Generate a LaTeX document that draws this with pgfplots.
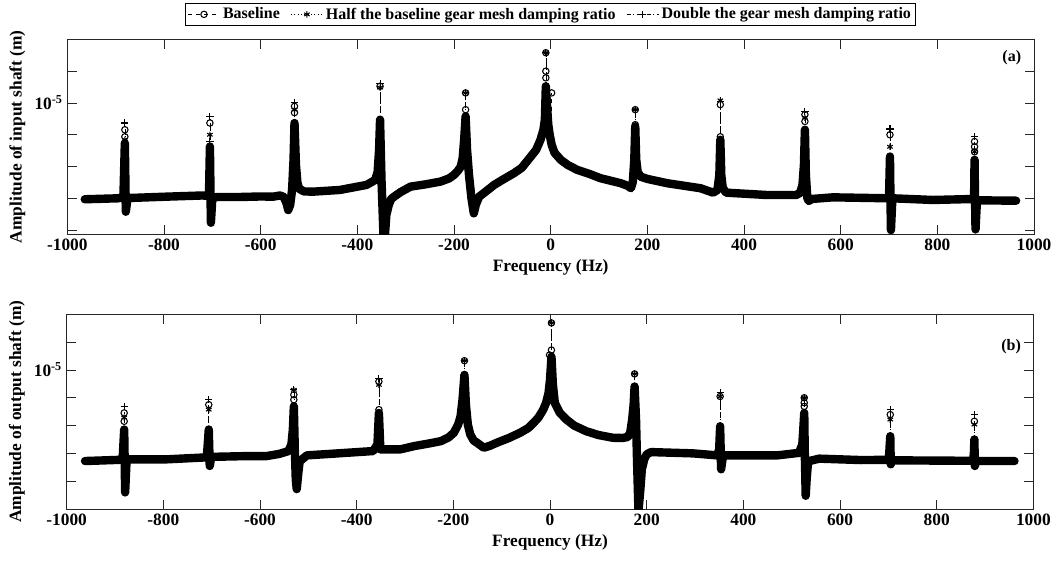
\documentclass[border=0pt]{standalone}
\usepackage{fontspec}
\setmainfont{Liberation Serif}
\usepackage{pgfplots}
\pgfplotsset{compat=1.18}
\definecolor{axgray}{gray}{0.15}
\pgfplotsset{
  mypanel/.style={
    width=725pt, height=146pt, scale only axis,
    xmin=-1000, xmax=1000,
    xtick={-1000,-800,-600,-400,-200,0,200,400,600,800,1000},
    xticklabels={-1000,-800,-600,-400,-200,0,200,400,600,800,1000},
    ytick={1.585e-6,2.512e-6,3.981e-6,6.310e-6,1e-5,1.585e-5},
    yticklabels={,,,,10\textsuperscript{-5},},
    minor ytick={},
    tick align=inside, major tick length=7pt,
    axis line style={line width=0.6pt, color=axgray},
    every tick/.style={axgray, line width=0.6pt},
    ticklabel style={font=\fontsize{13}{15}\selectfont\bfseries, text=black},
    label style={font=\fontsize{13}{15}\selectfont\bfseries},
    xlabel={Frequency (Hz)},
    unbounded coords=jump,
    clip=true,
  },
  myband/.style={black, line width=6.3pt, line join=round, line cap=round, forget plot},
  sbase/.style={black, line width=0.5pt, dashed, mark=o, mark size=2.4pt, mark options={solid, line width=0.8pt}},
  shalf/.style={black, line width=0.5pt, dotted, mark=asterisk, mark size=2.4pt, mark options={solid, line width=0.8pt}},
  sdouble/.style={black, line width=0.5pt, dash dot, mark=+, mark size=2.7pt, mark options={solid, line width=0.8pt}},
}
\begin{document}
\begin{tikzpicture}
\path[use as bounding box] (-50pt,-40.5pt) rectangle (742.75pt,381.75pt);

% ---------------- panel (a) ----------------
\begin{axis}[ymode=log, mypanel, at={(0.5pt,206.25pt)}, anchor=south west,
  ymin=1.5e-6, ymax=2.51e-5,
  ylabel={Amplitude of input shaft (m)},
  legend style={at={(0.5,1.0)}, anchor=south, yshift=10pt, legend columns=3,
    font=\fontsize{12}{14}\selectfont\bfseries, draw=black, line width=0.5pt,
    inner sep=1.5pt, /tikz/every even column/.append style={column sep=6pt}},
  legend image code/.code={\draw[mark repeat=2,mark phase=2,#1] plot coordinates {(0pt,0pt) (12pt,0pt) (24pt,0pt)};},
  legend cell align=left]
\addplot[myband] coordinates {
(-964,2.48e-6) (-895,2.515e-6) (-884,2.563e-6) (-881,5.59e-6) (-879,2.07e-6) (-876,2.455e-6)
(-870,2.527e-6) (-795,2.575e-6) (-720,2.62e-6) (-707,2.60e-6) (-705,5.32e-6) (-703,1.765e-6)
(-700,2.527e-6) (-690,2.563e-6) (-643,2.563e-6) (-600,2.582e-6) (-574,2.575e-6) (-560,2.62e-6)
(-552,2.563e-6) (-546,2.316e-6) (-543,2.122e-6) (-539,2.283e-6) (-535,2.838e-6) (-532,4.387e-6)
(-530,7.478e-6) (-527,4.081e-6) (-524,3.142e-6) (-520,2.88e-6) (-510,2.777e-6) (-491,2.769e-6)
(-436,2.838e-6) (-381,3.052e-6) (-370,3.188e-6) (-363,3.281e-6) (-358,3.686e-6) (-355,5.075e-6)
(-353,7.846e-6) (-350,3.281e-6) (-346,1.497e-6) (-343,1.455e-6) (-340,1.974e-6) (-335,2.283e-6)
(-330,2.49e-6) (-324,2.575e-6) (-310,2.757e-6) (-290,2.977e-6) (-260,3.074e-6) (-228,3.202e-6)
(-210,3.355e-6) (-200,3.528e-6) (-192,3.741e-6) (-186,3.981e-6) (-182,4.517e-6) (-179,5.868e-6)
(-176,8.23e-6) (-173,5.075e-6) (-169,3.528e-6) (-164,2.527e-6) (-159,2.023e-6) (-155,2.283e-6)
(-148,2.575e-6) (-130,2.838e-6) (-117,3.052e-6) (-100,3.281e-6) (-76,3.617e-6) (-60,3.907e-6)
(-41,4.604e-6) (-30,5.075e-6) (-21,5.868e-6) (-15,6.783e-6) (-12,7.846e-6) (-10,12.73e-6)
(-7,9.07e-6) (-5,7.297e-6) (-2,6.31e-6) (2,5.457e-6) (8,4.859e-6) (21,4.387e-6)
(35,4.081e-6) (55,3.795e-6) (80,3.581e-6) (103,3.364e-6) (145,3.129e-6) (160,3.007e-6)
(166,2.909e-6) (170,3.188e-6) (173,4.387e-6) (175,7.119e-6) (177,4.387e-6) (180,3.686e-6)
(186,3.443e-6) (200,3.33e-6) (241,3.129e-6) (310,2.909e-6) (336,2.729e-6) (345,2.838e-6)
(349,3.528e-6) (351,5.868e-6) (353,3.528e-6) (356,2.922e-6) (363,2.729e-6) (446,2.639e-6)
(508,2.639e-6) (516,2.717e-6) (521,3.052e-6) (524,4.081e-6) (526,6.783e-6) (528,3.528e-6)
(531,2.527e-6) (534,2.418e-6) (540,2.49e-6) (584,2.55e-6) (700,2.515e-6) (702,4.604e-6)
(703,2.527e-6) (704,1.587e-6) (707,2.515e-6) (791,2.455e-6) (876,2.49e-6) (877,4.387e-6)
(878,2.455e-6) (879,1.603e-6) (882,2.443e-6) (963,2.429e-6)
};
\addplot[sbase] coordinates {
(-881,5.59e-6) (-881,6.13e-6) (-881,6.78e-6) (-881,nan)
(-705,5.32e-6) (-705,7.48e-6) (-705,nan)
(-530,7.48e-6) (-530,8.69e-6) (-530,9.52e-6) (-530,nan)
(-353,7.85e-6) (-353,12.73e-6) (-353,nan)
(-176,8.23e-6) (-176,9.07e-6) (-176,11.56e-6) (-176,nan)
(-10,12.73e-6) (-10,14.38e-6) (-10,15.83e-6) (-10,20.68e-6) (-10,nan)
(2,5.59e-6) (2,11.56e-6) (2,nan)
(175,7.12e-6) (175,7.30e-6) (175,9.07e-6) (175,nan)
(351,5.87e-6) (351,6.13e-6) (351,9.757e-6) (351,nan)
(526,6.78e-6) (526,7.65e-6) (526,8.44e-6) (526,nan)
(702,4.60e-6) (702,6.31e-6) (702,nan)
(704,1.587e-6) (704,nan)
(877,4.39e-6) (877,4.93e-6) (877,5.30e-6) (877,5.72e-6)
};
\addlegendentry{Baseline}
\addplot[shalf] coordinates {
(-881,5.59e-6) (-881,5.87e-6) (-881,nan)
(-705,5.32e-6) (-705,6.31e-6) (-705,nan)
(-530,7.48e-6) (-530,9.07e-6) (-530,nan)
(-353,7.85e-6) (-353,12.49e-6) (-353,nan)
(-176,8.23e-6) (-176,11.56e-6) (-176,nan)
(-10,12.73e-6) (-10,20.68e-6) (-10,nan)
(175,7.12e-6) (175,9.07e-6) (175,nan)
(351,5.87e-6) (351,10.38e-6) (351,nan)
(526,6.78e-6) (526,8.08e-6) (526,nan)
(702,4.60e-6) (702,5.30e-6) (702,nan)
(877,4.39e-6) (877,4.93e-6)
};
\addlegendentry{Half the baseline gear mesh damping ratio}
\addplot[sdouble] coordinates {
(-881,5.59e-6) (-881,7.48e-6) (-881,nan)
(-705,5.32e-6) (-705,5.72e-6) (-705,8.23e-6) (-705,nan)
(-530,7.48e-6) (-530,10.09e-6) (-530,nan)
(-353,7.85e-6) (-353,13.24e-6) (-353,nan)
(-176,8.23e-6) (-176,11.56e-6) (-176,nan)
(-10,12.73e-6) (-10,20.68e-6) (-10,nan)
(175,7.12e-6) (175,9.07e-6) (175,nan)
(351,5.87e-6) (351,10.19e-6) (351,nan)
(526,6.78e-6) (526,8.85e-6) (526,nan)
(702,4.60e-6) (702,6.855e-6) (702,nan)
(704,1.59e-6) (704,1.68e-6) (704,nan)
(877,4.39e-6) (877,6.156e-6) (877,nan)
(879,1.60e-6) (879,1.707e-6)
};
\addlegendentry{Double the gear mesh damping ratio}
\node[font=\fontsize{12}{14}\selectfont\bfseries] at (rel axis cs:0.977,0.907) {(a)};
\end{axis}

% ---------------- panel (b) ----------------
\begin{axis}[ymode=log, mypanel, at={(0pt,0pt)}, anchor=south west,
  ymin=1e-6, ymax=2.51e-5,
  ylabel={Amplitude of output shaft (m)}]
\addplot[myband] coordinates {
(-962,2.213e-6) (-890,2.257e-6) (-884,2.352e-6) (-881,3.728e-6) (-879,1.316e-6) (-876,2.276e-6)
(-793,2.276e-6) (-710,2.352e-6) (-706,3.728e-6) (-704,2.039e-6) (-701,2.371e-6) (-623,2.403e-6)
(-586,2.403e-6) (-560,2.491e-6) (-541,2.61e-6) (-535,2.913e-6) (-532,3.728e-6) (-530,5.47e-6)
(-528,2.683e-6) (-526,1.638e-6) (-524,1.39e-6) (-521,1.778e-6) (-518,2.202e-6) (-503,2.43e-6)
(-448,2.50e-6) (-366,2.61e-6) (-357,2.913e-6) (-354,4.906e-6) (-351,2.683e-6) (-310,2.683e-6)
(-281,2.833e-6) (-250,2.961e-6) (-226,3.075e-6) (-210,3.268e-6) (-199,3.531e-6) (-190,4.047e-6)
(-185,4.638e-6) (-181,6.107e-6) (-177,9.21e-6) (-174,5.623e-6) (-170,4.047e-6) (-165,3.433e-6)
(-158,3.11e-6) (-151,2.995e-6) (-137,2.759e-6) (-125,2.842e-6) (-110,2.995e-6) (-85,3.241e-6)
(-62,3.531e-6) (-45,3.821e-6) (-34,4.163e-6) (-24,4.541e-6) (-14,5.18e-6) (-8,5.811e-6)
(-3,6.816e-6) (0,8.483e-6) (3,12.45e-6) (6,7.815e-6) (10,5.78e-6) (20,4.931e-6)
(34,4.395e-6) (50,3.981e-6) (75,3.625e-6) (100,3.405e-6) (130,3.252e-6) (150,3.241e-6)
(161,3.295e-6) (166,3.548e-6) (170,4.395e-6) (173,5.623e-6) (175,7.598e-6) (178,4.395e-6)
(180,2.276e-6) (183,0.968e-6) (187,1.39e-6) (190,1.931e-6) (195,2.276e-6) (200,2.471e-6)
(209,2.566e-6) (296,2.512e-6) (346,2.43e-6) (350,2.683e-6) (352,3.936e-6) (354,1.931e-6)
(358,2.43e-6) (470,2.43e-6) (515,2.533e-6) (522,2.913e-6) (524,3.728e-6) (526,4.906e-6)
(527,2.683e-6) (529,1.245e-6) (531,1.638e-6) (534,2.202e-6) (557,2.302e-6) (643,2.249e-6)
(701,2.257e-6) (704,3.339e-6) (705,2.097e-6) (707,2.239e-6) (875,2.221e-6) (877,2.5e-6)
(878,3.162e-6) (879,2.039e-6) (881,2.213e-6) (961,2.213e-6)
};
\addplot[sbase] coordinates {
(-881,3.73e-6) (-881,4.272e-6) (-881,4.906e-6) (-881,nan)
(-706,3.73e-6) (-706,5.623e-6) (-706,nan)
(-530,5.47e-6) (-530,6.107e-6) (-530,6.63e-6) (-530,nan)
(-354,4.906e-6) (-354,5.18e-6) (-354,8.25e-6) (-354,nan)
(-177,9.21e-6) (-177,11.65e-6) (-177,nan)
(-1,12.8e-6) (-1,nan)
(3,12.45e-6) (3,13.9e-6) (3,21.77e-6) (3,nan)
(175,7.60e-6) (175,9.363e-6) (175,nan)
(352,3.936e-6) (352,6.445e-6) (352,nan)
(526,4.906e-6) (526,5.47e-6) (526,5.81e-6) (526,6.31e-6) (526,nan)
(704,3.339e-6) (704,4.77e-6) (704,nan)
(878,3.162e-6) (878,4.272e-6)
};
\addplot[shalf] coordinates {
(-881,3.73e-6) (-881,4.54e-6) (-881,nan)
(-706,3.73e-6) (-706,5.18e-6) (-706,nan)
(-530,5.47e-6) (-530,7.197e-6) (-530,nan)
(-354,4.906e-6) (-354,7.815e-6) (-354,nan)
(-177,9.21e-6) (-177,11.65e-6) (-177,nan)
(3,12.45e-6) (3,21.77e-6) (3,nan)
(175,7.60e-6) (175,9.363e-6) (175,nan)
(352,3.936e-6) (352,6.445e-6) (352,nan)
(526,4.906e-6) (526,6.31e-6) (526,nan)
(704,3.339e-6) (704,4.395e-6) (704,nan)
(878,3.162e-6) (878,4.046e-6)
};
\addplot[sdouble] coordinates {
(-881,3.73e-6) (-881,5.47e-6) (-881,nan)
(-879,1.32e-6) (-879,nan)
(-706,3.73e-6) (-706,6.107e-6) (-706,nan)
(-530,5.47e-6) (-530,7.197e-6) (-530,nan)
(-354,4.906e-6) (-354,8.727e-6) (-354,nan)
(-177,9.21e-6) (-177,11.65e-6) (-177,nan)
(3,12.45e-6) (3,21.77e-6) (3,nan)
(175,7.60e-6) (175,9.363e-6) (175,nan)
(183,1.46e-6) (183,1.28e-6) (183,1.086e-6) (183,nan)
(352,3.936e-6) (352,6.849e-6) (352,nan)
(354,1.931e-6) (354,nan)
(526,4.906e-6) (526,6.31e-6) (526,nan)
(529,1.245e-6) (529,nan)
(704,3.339e-6) (704,5.18e-6) (704,nan)
(878,3.162e-6) (878,4.77e-6)
};
\node[font=\fontsize{12}{14}\selectfont\bfseries] at (rel axis cs:0.977,0.832) {(b)};
\end{axis}
\end{tikzpicture}
\end{document}
